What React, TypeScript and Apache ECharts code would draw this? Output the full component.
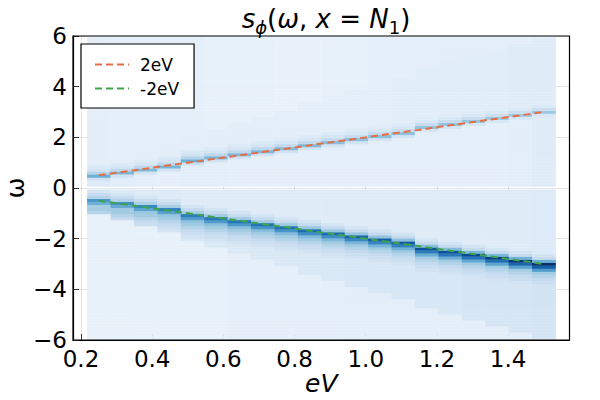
import React, { useEffect, useRef } from "react";
import * as echarts from "echarts";

// column centres (eV)
const eV = [0.25, 0.3158, 0.3816, 0.4474, 0.5132, 0.5789, 0.6447, 0.7105, 0.7763, 0.8421, 0.9079, 0.9737, 1.0395, 1.1053, 1.1711, 1.2368, 1.3026, 1.3684, 1.4342, 1.5];
// reference lines
const line2eV = [0.5, 0.6316, 0.7632, 0.8947, 1.0263, 1.1579, 1.2895, 1.4211, 1.5526, 1.6842, 1.8158, 1.9474, 2.0789, 2.2105, 2.3421, 2.4737, 2.6053, 2.7368, 2.8684, 3.0];
const lineMinus2eV = [-0.5, -0.6316, -0.7632, -0.8947, -1.0263, -1.1579, -1.2895, -1.4211, -1.5526, -1.6842, -1.8158, -1.9474, -2.0789, -2.2105, -2.3421, -2.4737, -2.6053, -2.7368, -2.8684, -3.0];
// intensities (0..1 on the Blues scale)
const upperPeak = [0.5, 0.46, 0.45, 0.47, 0.5, 0.46, 0.45, 0.45, 0.44, 0.44, 0.43, 0.42, 0.42, 0.41, 0.4, 0.4, 0.39, 0.38, 0.38, 0.38];
const lowerPeak = [0.6, 0.63, 0.66, 0.68, 0.7, 0.72, 0.73, 0.74, 0.75, 0.77, 0.78, 0.8, 0.82, 0.84, 0.86, 0.88, 0.9, 0.93, 0.96, 1.0];
const upperNear = [0.13, 0.11, 0.1, 0.09, 0.1, 0.1, 0.09, 0.09, 0.09, 0.09, 0.09, 0.09, 0.09, 0.09, 0.09, 0.09, 0.09, 0.09, 0.1, 0.12];
const upperMid = [0.11, 0.1, 0.1, 0.1, 0.1, 0.1, 0.1, 0.1, 0.1, 0.1, 0.1, 0.1, 0.1, 0.11, 0.11, 0.11, 0.11, 0.11, 0.12, 0.12];
const upperFar = [0.1, 0.09, 0.09, 0.09, 0.09, 0.08, 0.08, 0.08, 0.07, 0.07, 0.08, 0.08, 0.09, 0.09, 0.09, 0.1, 0.1, 0.1, 0.1, 0.1];
const lowerNear = [0.14, 0.13, 0.13, 0.13, 0.12, 0.12, 0.12, 0.12, 0.12, 0.12, 0.12, 0.12, 0.12, 0.12, 0.12, 0.12, 0.12, 0.12, 0.12, 0.13];
const lowerTail = [0.15, 0.15, 0.15, 0.15, 0.15, 0.15, 0.15, 0.15, 0.15, 0.15, 0.15, 0.16, 0.16, 0.16, 0.16, 0.16, 0.17, 0.17, 0.17, 0.18];
const lowerFar = [0.08, 0.08, 0.08, 0.08, 0.08, 0.08, 0.09, 0.09, 0.09, 0.09, 0.09, 0.1, 0.1, 0.1, 0.1, 0.1, 0.1, 0.1, 0.11, 0.12];
const yTickValues = [-6, -4, -2, 0, 2, 4, 6];
const xTickValues = [0.2, 0.4, 0.6, 0.8, 1.0, 1.2, 1.4];

const OMEGA_STEP = 0.12;
const OMEGA_ROWS = 101;
const COL_WIDTH = 0.065789;

const BLUES = ["#f7fbff", "#deebf7", "#c6dbef", "#9ecae1", "#6baed6", "#4292c6", "#2171b5", "#08519c", "#08306b"];

function cellValue(k: number, w: number): number {
  if (w > 0) {
    const p = line2eV[k];
    const j = Math.round((w - p) / OMEGA_STEP);
    if (j === 0) return upperPeak[k];
    if (j === 1) return upperPeak[k] * 0.6;
    if (j === -1) return upperPeak[k] * 0.42;
    if (j === 2) return upperPeak[k] * 0.38;
    if (j === 3) return upperPeak[k] * 0.3;
    if (j > 3) return w < 2 * p ? upperMid[k] : upperFar[k];
    return upperNear[k];
  }
  const q = -w;
  const p = -lineMinus2eV[k];
  const j = Math.round((q - p) / OMEGA_STEP);
  if (j === 0) return lowerPeak[k];
  if (j === 1) return lowerPeak[k] * 0.82;
  if (j === 2) return lowerPeak[k] * 0.58;
  if (j === 3) return 0.36;
  if (j === 4) return 0.3;
  if (j === -1) return lowerPeak[k] * 0.5;
  if (j === -2) return 0.25;
  if (j === -3) return 0.18;
  if (j > 4) {
    if (q >= 2 * p) return lowerFar[k];
    if (j < 8) return 0.25 - (j - 5) * 0.03;
    return lowerTail[k];
  }
  return lowerNear[k];
}

function buildCells(): number[][] {
  const cells: number[][] = [];
  for (let k = 0; k < eV.length; k++) {
    for (let i = 0; i < OMEGA_ROWS; i++) {
      const w = Math.round((-6 + i * OMEGA_STEP) * 1000) / 1000;
      if (Math.abs(w) < 1e-9) continue; // undefined at ω = 0 (white gap)
      cells.push([eV[k], w, cellValue(k, w)]);
    }
  }
  return cells;
}

const FONT = "DejaVu Sans";

export default function App() {
  const ref = useRef<HTMLDivElement>(null);
  useEffect(() => {
    if (!ref.current) return;
    const chart = echarts.init(ref.current, undefined, { renderer: "svg" });
    const gridLeft = 73;
    const gridTop = 36;
    const gridRight = 30.5;
    const gridBottom = 60;
    const main = { fontFamily: FONT, fontSize: 26, fontWeight: "normal", color: "#000", lineHeight: 30, verticalAlign: "top" };
    const sub = { fontFamily: FONT, fontSize: 18, fontWeight: "normal", color: "#000", lineHeight: 18, verticalAlign: "bottom" };
    chart.setOption({
      animation: false,
      backgroundColor: "#fff",
      title: {
        left: 321,
        top: 1,
        textAlign: "center",
        text: "{it|s}{subi|ϕ}{r|(}{it|ω}{r|, }{it|x}{r| = }{it|N}{subr|1}{r|)}",
        textStyle: {
          fontFamily: FONT,
          fontSize: 26,
          fontWeight: "normal",
          color: "#000",
          rich: {
            it: { ...main, fontStyle: "italic" },
            r: { ...main },
            subi: { ...sub, fontStyle: "italic" },
            subr: { ...sub },
          },
        },
      },
      legend: {
        left: 81,
        top: 44,
        orient: "vertical",
        data: ["2eV", "-2eV"],
        selectedMode: false,
        backgroundColor: "#fff",
        borderColor: "#000",
        borderWidth: 1.2,
        borderRadius: 0,
        padding: [12, 15, 11, 13],
        itemWidth: 34,
        itemHeight: 14,
        itemGap: 7,
        itemStyle: { opacity: 0, borderWidth: 0 },
        textStyle: { fontFamily: FONT, fontSize: 17, color: "#000", padding: [0, 0, 0, 6] },
        z: 20,
      },
      grid: {
        left: gridLeft,
        top: gridTop,
        right: gridRight,
        bottom: gridBottom,
        containLabel: false,
        outerBoundsMode: "none",
      },
      visualMap: {
        show: false,
        type: "continuous",
        min: 0,
        max: 1,
        dimension: 2,
        seriesIndex: 0,
        inRange: { color: BLUES },
      },
      xAxis: {
        type: "value",
        min: 0.1776,
        max: 1.5724,
        splitNumber: 7,
        name: "eV",
        nameLocation: "middle",
        nameGap: 31,
        nameMoveOverlap: false,
        nameTextStyle: { fontFamily: FONT, fontSize: 25, fontStyle: "italic", color: "#000" },
        axisLine: { show: true, onZero: false, lineStyle: { color: "#000", width: 1.2 } },
        axisTick: { show: true, inside: true, length: 6, lineStyle: { color: "#333" } },
        axisLabel: {
          fontFamily: FONT,
          fontSize: 23,
          color: "#000",
          margin: 7,
          showMinLabel: false,
          showMaxLabel: false,
          formatter: (v: number) => {
            const hit = xTickValues.find((t) => Math.abs(t - v) < 1e-6);
            return hit === undefined ? "" : hit.toFixed(1);
          },
        },
        splitLine: { show: true, lineStyle: { color: "rgba(0,0,0,0.1)", width: 1 } },
      },
      yAxis: {
        type: "value",
        min: -6,
        max: 6,
        interval: 2,
        name: "ω",
        nameLocation: "middle",
        nameGap: 45,
        nameMoveOverlap: false,
        nameRotate: 90,
        nameTextStyle: { fontFamily: FONT, fontSize: 25, color: "#000" },
        axisLine: { show: true, onZero: false, lineStyle: { color: "#000", width: 1.2 } },
        axisTick: { show: true, inside: true, length: 6, lineStyle: { color: "#333" } },
        axisLabel: {
          fontFamily: FONT,
          fontSize: 23,
          color: "#000",
          margin: 6,
          formatter: (v: number) => {
            const hit = yTickValues.find((t) => Math.abs(t - v) < 1e-6);
            if (hit === undefined) return "";
            return hit < 0 ? "\u2212" + Math.abs(hit) : String(hit);
          },
        },
        splitLine: { show: true, lineStyle: { color: "rgba(0,0,0,0.1)", width: 1 } },
      },
      series: [
        {
          type: "custom",
          name: "s",
          coordinateSystem: "cartesian2d",
          clip: true,
          z: 2,
          encode: { x: 0, y: 1 },
          data: buildCells(),
          renderItem: (params: any, api: any) => {
            const x = api.value(0);
            const y = api.value(1);
            const p0 = api.coord([x - COL_WIDTH / 2, y + OMEGA_STEP / 2]);
            const p1 = api.coord([x + COL_WIDTH / 2, y - OMEGA_STEP / 2]);
            return {
              type: "rect",
              shape: { x: p0[0], y: p0[1], width: p1[0] - p0[0] + 0.4, height: p1[1] - p0[1] + 0.3 },
              style: { fill: api.visual("color") },
            };
          },
        },
        {
          type: "line",
          name: "2eV",
          data: eV.map((x, i) => [x, line2eV[i]]),
          symbol: "none",
          showSymbol: false,
          z: 5,
          lineStyle: { color: "#e36f47", width: 2, type: [7, 4] },
          itemStyle: { color: "#e36f47" },
        },
        {
          type: "line",
          name: "-2eV",
          data: eV.map((x, i) => [x, lineMinus2eV[i]]),
          symbol: "none",
          showSymbol: false,
          z: 5,
          lineStyle: { color: "#3ea44e", width: 2, type: [7, 4] },
          itemStyle: { color: "#3ea44e" },
        },
      ],
      graphic: [
        {
          type: "rect",
          z: 100,
          silent: true,
          shape: { x: gridLeft, y: gridTop, width: 600 - gridLeft - gridRight, height: 400 - gridTop - gridBottom },
          style: { fill: "none", stroke: "#000", lineWidth: 1.2 },
        },
      ],
    });
    return () => chart.dispose();
  }, []);
  return <div ref={ref} style={{ width: 600, height: 400, position: "fixed", left: 0, top: 0 }} />;
}
